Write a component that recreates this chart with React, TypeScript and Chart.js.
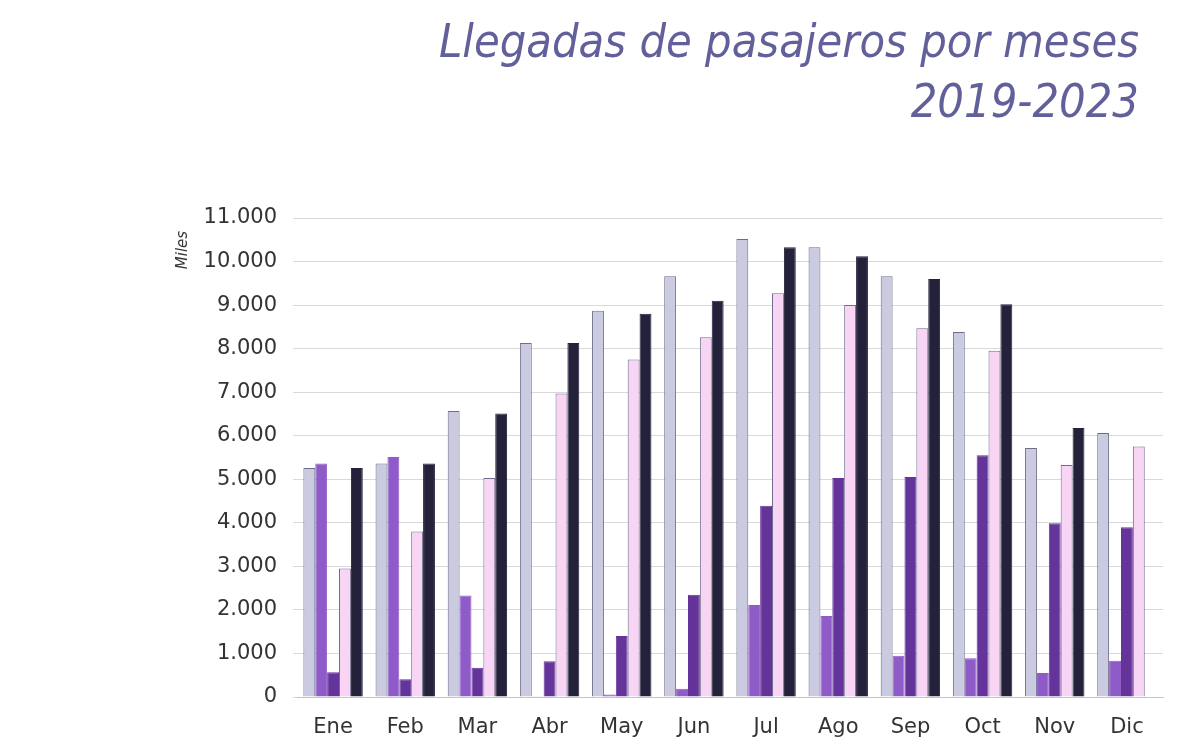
import React, { useEffect, useRef } from "react";
import { Chart, registerables } from "chart.js";

Chart.register(...registerables);

// Monthly passenger arrivals (thousands)
const months = ["Ene", "Feb", "Mar", "Abr", "May", "Jun", "Jul", "Ago", "Sep", "Oct", "Nov", "Dic"];
const years = ["2019", "2020", "2021", "2022", "2023"];

const arrivals2019 = [5260, 5360, 6570, 8130, 8870, 9660, 10520, 10330, 9660, 8380, 5720, 6060];
const arrivals2020 = [5360, 5510, 2330, 20, 60, 190, 2110, 1860, 950, 890, 550, 830];
const arrivals2021 = [570, 410, 670, 820, 1400, 2350, 4390, 5030, 5050, 5550, 3990, 3900];
const arrivals2022 = [2950, 3800, 5030, 6970, 7750, 8260, 9270, 9000, 8470, 7950, 5330, 5750];
const arrivals2023 = [5260, 5360, 6510, 8130, 8800, 9100, 10330, 10120, 9600, 9020, 6180, null];

const seriesColors = ["#cacbe0", "#8f5bc8", "#65349a", "#f8d5f5", "#23223a"];
const seriesBorders = ["#6d6c8a", "#8f5bc8", "#65349a", "#6d6c8a", "#23223a"];

const titleLines = ["Llegadas de pasajeros por meses", "2019-2023"];
const unitLabel = "Miles";

const formatThousands = (v: number) =>
  String(Math.round(v)).replace(/\B(?=(\d{3})+(?!\d))/g, ".");

// Draws the two-line heading and the rotated unit label
const annotations = {
  id: "annotations",
  afterDraw(chart: any) {
    const ctx = chart.ctx as CanvasRenderingContext2D;
    ctx.save();
    ctx.fillStyle = "#62609a";
    ctx.font = "oblique 47px 'DejaVu Sans'";
    ctx.textAlign = "right";
    ctx.textBaseline = "alphabetic";
    const w = ctx.measureText(titleLines[0]).width;
    const sx = 700 / w;
    const right = 1139;
    const baselines = [57, 117];
    titleLines.forEach((line, i) => {
      ctx.save();
      ctx.translate(right, baselines[i]);
      ctx.scale(sx, 1);
      ctx.fillText(line, 0, 0);
      ctx.restore();
    });
    ctx.restore();

    ctx.save();
    ctx.fillStyle = "#333333";
    ctx.font = "oblique 15px 'DejaVu Sans'";
    ctx.textAlign = "center";
    ctx.textBaseline = "middle";
    ctx.translate(183, 250);
    ctx.rotate(-Math.PI / 2);
    ctx.fillText(unitLabel, 0, 0);
    ctx.restore();
  },
};

export default function App() {
  const canvasRef = useRef<HTMLCanvasElement | null>(null);

  useEffect(() => {
    if (!canvasRef.current) return;
    const seriesData = [arrivals2019, arrivals2020, arrivals2021, arrivals2022, arrivals2023];
    const chart = new Chart(canvasRef.current, {
      type: "bar",
      data: {
        labels: months,
        datasets: years.map((y, i) => ({
          label: y,
          data: seriesData[i],
          backgroundColor: seriesColors[i],
          borderColor: seriesBorders[i],
          borderWidth: 1,
          categoryPercentage: 0.823,
          barPercentage: 1,
        })),
      },
      options: {
        responsive: false,
        animation: false,
        layout: { padding: { top: 218, right: 37, left: 0, bottom: 0 } },
        plugins: {
          legend: { display: false },
          tooltip: { enabled: false },
          title: { display: false },
        },
        scales: {
          x: {
            grid: { display: false, drawTicks: false },
            border: { display: true, color: "#c4c4c4", width: 1 },
            ticks: {
              color: "#333333",
              font: { family: "'DejaVu Sans'", size: 21 },
              padding: 18,
            },
            afterFit: (scale: any) => {
              scale.height = 53;
            },
          },
          y: {
            min: 0,
            max: 11000,
            border: { display: false },
            grid: {
              color: "#d9d9d9",
              lineWidth: 1,
              drawTicks: true,
              tickLength: 4,
              tickColor: "#d9d9d9",
            },
            ticks: {
              stepSize: 1000,
              color: "#333333",
              font: { family: "'DejaVu Sans'", size: 21 },
              padding: 16,
              callback: (v: any) => formatThousands(Number(v)),
            },
            afterFit: (scale: any) => {
              scale.width = 297;
            },
          },
        },
      },
      plugins: [annotations],
    });
    return () => chart.destroy();
  }, []);

  return (
    <div style={{ position: "fixed", left: 0, top: 0, width: 1200, height: 750, background: "#ffffff" }}>
      <canvas ref={canvasRef} width={1200} height={750} />
    </div>
  );
}
